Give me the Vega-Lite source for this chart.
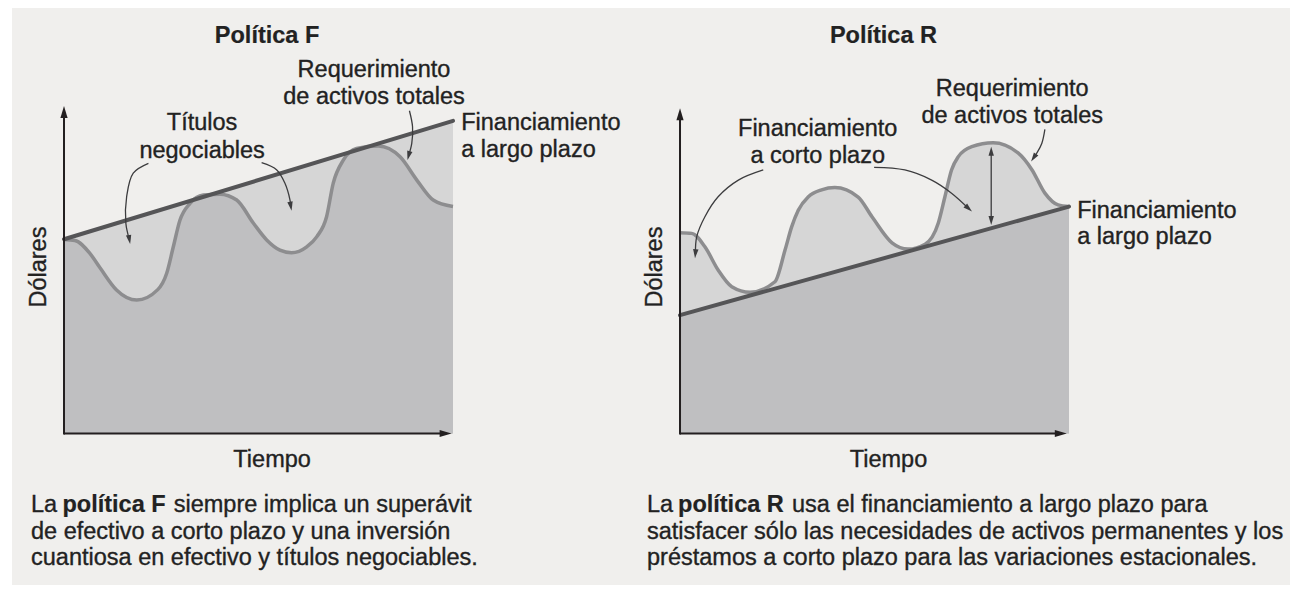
{
  "$schema": "https://vega.github.io/schema/vega-lite/v6.json",
  "background": "#ffffff",
  "padding": {"left": 12, "top": 8, "right": 0, "bottom": 16},
  "spacing": 0,
  "bounds": "flush",
  "config": {"view": {"stroke": null, "fill": "#f0efed"}, "text": {"font": "Liberation Sans", "fontSize": 23.5, "color": "#222222", "stroke": "#222222", "strokeWidth": 0.35, "baseline": "middle"}},
  "datasets": {
    "fin": [
      {"panel": "F", "t": 0, "d": 59.4}, {"panel": "F", "t": 100, "d": 95.6},
      {"panel": "R", "t": 0, "d": 36.2}, {"panel": "R", "t": 100, "d": 69.4}
    ],
    "req": [
      {"panel": "F", "t": 0, "d": 59.3}, {"panel": "F", "t": 2.8, "d": 59.0}, {"panel": "F", "t": 6.7, "d": 55.0},
      {"panel": "F", "t": 9.3, "d": 50.6}, {"panel": "F", "t": 13.5, "d": 43.9}, {"panel": "F", "t": 18.7, "d": 40.8},
      {"panel": "F", "t": 24.1, "d": 44.0}, {"panel": "F", "t": 26.4, "d": 49.0}, {"panel": "F", "t": 28.1, "d": 57.1},
      {"panel": "F", "t": 29.8, "d": 65.2}, {"panel": "F", "t": 32.4, "d": 70.4}, {"panel": "F", "t": 35.8, "d": 72.9},
      {"panel": "F", "t": 40.1, "d": 73.2}, {"panel": "F", "t": 44.4, "d": 71.4}, {"panel": "F", "t": 48.7, "d": 64.3},
      {"panel": "F", "t": 52.1, "d": 59.2}, {"panel": "F", "t": 55.5, "d": 56.1}, {"panel": "F", "t": 58.5, "d": 55.3},
      {"panel": "F", "t": 62.4, "d": 57.1}, {"panel": "F", "t": 65.0, "d": 60.2}, {"panel": "F", "t": 67.5, "d": 66.3},
      {"panel": "F", "t": 69.2, "d": 76.5}, {"panel": "F", "t": 71.8, "d": 83.6}, {"panel": "F", "t": 75.2, "d": 87.2},
      {"panel": "F", "t": 80.8, "d": 87.9}, {"panel": "F", "t": 86.4, "d": 84.6}, {"panel": "F", "t": 90.7, "d": 77.5},
      {"panel": "F", "t": 94.9, "d": 71.4}, {"panel": "F", "t": 100, "d": 69.4},
      {"panel": "R", "t": 0, "d": 61.4}, {"panel": "R", "t": 3.0, "d": 61.2}, {"panel": "R", "t": 6.4, "d": 57.1},
      {"panel": "R", "t": 9.8, "d": 50.0}, {"panel": "R", "t": 13.3, "d": 44.9}, {"panel": "R", "t": 18.0, "d": 43.2},
      {"panel": "R", "t": 24.4, "d": 46.4}, {"panel": "R", "t": 27.0, "d": 56.1}, {"panel": "R", "t": 28.7, "d": 63.2},
      {"panel": "R", "t": 30.4, "d": 68.3}, {"panel": "R", "t": 33.0, "d": 72.4}, {"panel": "R", "t": 36.4, "d": 74.5},
      {"panel": "R", "t": 39.8, "d": 75.2}, {"panel": "R", "t": 45.8, "d": 72.3}, {"panel": "R", "t": 49.4, "d": 66.2},
      {"panel": "R", "t": 54.5, "d": 58.3}, {"panel": "R", "t": 58.6, "d": 56.4}, {"panel": "R", "t": 63.0, "d": 57.9},
      {"panel": "R", "t": 66.4, "d": 64.4}, {"panel": "R", "t": 68.1, "d": 72.4}, {"panel": "R", "t": 69.8, "d": 80.6},
      {"panel": "R", "t": 71.5, "d": 84.6}, {"panel": "R", "t": 75.0, "d": 87.7}, {"panel": "R", "t": 80.5, "d": 88.9},
      {"panel": "R", "t": 86.9, "d": 85.8}, {"panel": "R", "t": 90.5, "d": 80.6}, {"panel": "R", "t": 93.8, "d": 73.5},
      {"panel": "R", "t": 97.2, "d": 69.9}, {"panel": "R", "t": 100, "d": 69.4}
    ],
    "axes": [
      {"panel": "F", "t": 0, "t2": 0, "d": -0.3, "d2": 98.3},
      {"panel": "F", "t": 0, "t2": 98.1, "d": 0, "d2": 0},
      {"panel": "R", "t": 0, "t2": 0, "d": -0.3, "d2": 97.6},
      {"panel": "R", "t": 0, "t2": 97.9, "d": 0, "d2": 0}
    ],
    "heads": [
      {"panel": "F", "kind": "axis", "t": 0, "d": 98.3, "heading": 0},
      {"panel": "F", "kind": "axis", "t": 98.1, "d": 0, "heading": 90},
      {"panel": "R", "kind": "axis", "t": 0, "d": 97.6, "heading": 0},
      {"panel": "R", "kind": "axis", "t": 97.9, "d": 0, "heading": 90},
      {"panel": "F", "kind": "note", "t": 16.8, "d": 59.3, "heading": 170},
      {"panel": "F", "kind": "note", "t": 58.3, "d": 69.5, "heading": 170},
      {"panel": "F", "kind": "note", "t": 88.6, "d": 85.0, "heading": 195},
      {"panel": "R", "kind": "note", "t": 3.96, "d": 55.0, "heading": 185},
      {"panel": "R", "kind": "note", "t": 74.2, "d": 68.8, "heading": 132},
      {"panel": "R", "kind": "note", "t": 90.9, "d": 84.3, "heading": 214},
      {"panel": "R", "kind": "note", "t": 80.0, "d": 86.3, "heading": 0},
      {"panel": "R", "kind": "note", "t": 80.0, "d": 65.1, "heading": 180}
    ],
    "arrows": [
      {"panel": "F", "id": "a1", "seq": 1, "t": 21.7, "d": 82.6},
      {"panel": "F", "id": "a1", "seq": 2, "t": 17.8, "d": 79.6},
      {"panel": "F", "id": "a1", "seq": 3, "t": 16.1, "d": 72.4},
      {"panel": "F", "id": "a1", "seq": 4, "t": 15.9, "d": 64.3},
      {"panel": "F", "id": "a1", "seq": 5, "t": 16.8, "d": 59.3},
      {"panel": "F", "id": "a2", "seq": 1, "t": 50.8, "d": 82.8},
      {"panel": "F", "id": "a2", "seq": 2, "t": 54.7, "d": 80.6},
      {"panel": "F", "id": "a2", "seq": 3, "t": 56.8, "d": 76.5},
      {"panel": "F", "id": "a2", "seq": 4, "t": 58.1, "d": 71.4},
      {"panel": "F", "id": "a2", "seq": 5, "t": 58.3, "d": 69.5},
      {"panel": "F", "id": "a3", "seq": 1, "t": 88.8, "d": 98.7},
      {"panel": "F", "id": "a3", "seq": 2, "t": 89.6, "d": 93.8},
      {"panel": "F", "id": "a3", "seq": 3, "t": 89.4, "d": 88.7},
      {"panel": "F", "id": "a3", "seq": 4, "t": 88.6, "d": 85.0},
      {"panel": "R", "id": "b1", "seq": 1, "t": 21.4, "d": 80.6},
      {"panel": "R", "id": "b1", "seq": 2, "t": 15.0, "d": 77.5},
      {"panel": "R", "id": "b1", "seq": 3, "t": 9.8, "d": 72.4},
      {"panel": "R", "id": "b1", "seq": 4, "t": 6.4, "d": 66.3},
      {"panel": "R", "id": "b1", "seq": 5, "t": 4.3, "d": 60.2},
      {"panel": "R", "id": "b1", "seq": 6, "t": 3.96, "d": 55.0},
      {"panel": "R", "id": "b2", "seq": 1, "t": 49.9, "d": 81.4},
      {"panel": "R", "id": "b2", "seq": 2, "t": 57.8, "d": 80.6},
      {"panel": "R", "id": "b2", "seq": 3, "t": 64.7, "d": 77.5},
      {"panel": "R", "id": "b2", "seq": 4, "t": 69.8, "d": 73.5},
      {"panel": "R", "id": "b2", "seq": 5, "t": 74.2, "d": 68.8},
      {"panel": "R", "id": "b3", "seq": 1, "t": 93.8, "d": 93.0},
      {"panel": "R", "id": "b3", "seq": 2, "t": 93.0, "d": 88.7},
      {"panel": "R", "id": "b3", "seq": 3, "t": 91.7, "d": 85.7},
      {"panel": "R", "id": "b3", "seq": 4, "t": 90.9, "d": 84.3},
      {"panel": "R", "id": "b4", "seq": 1, "t": 80.0, "d": 86.3},
      {"panel": "R", "id": "b4", "seq": 2, "t": 80.0, "d": 65.1}
    ],
    "labels": [
      {"panel": "F", "role": "title", "t": 52.2, "d": 121.5, "text": "Política F"},
      {"panel": "F", "role": "label", "t": 79.7, "d": 111.1, "text": "Requerimiento"},
      {"panel": "F", "role": "label", "t": 79.7, "d": 102.9, "text": "de activos totales"},
      {"panel": "F", "role": "label", "t": 35.5, "d": 95.0, "text": "Títulos"},
      {"panel": "F", "role": "label", "t": 35.5, "d": 86.5, "text": "negociables"},
      {"panel": "F", "role": "side", "t": 102.1, "d": 95.0, "text": "Financiamiento"},
      {"panel": "F", "role": "side", "t": 102.1, "d": 86.7, "text": "a largo plazo"},
      {"panel": "F", "role": "label", "t": 53.5, "d": -8.1, "text": "Tiempo"},
      {"panel": "F", "role": "ytitle", "t": -6.4, "d": 50.9, "text": "Dólares"},
      {"panel": "F", "role": "side", "t": -8.48, "d": -21.9, "text": "La"},
      {"panel": "F", "role": "emph", "t": -0.39, "d": -21.9, "text": "política F"},
      {"panel": "F", "role": "side", "t": 28.2, "d": -21.9, "text": "siempre implica un superávit"},
      {"panel": "F", "role": "side", "t": -8.48, "d": -30.0, "text": "de efectivo a corto plazo y una inversión"},
      {"panel": "F", "role": "side", "t": -8.48, "d": -38.2, "text": "cuantiosa en efectivo y títulos negociables."},
      {"panel": "R", "role": "title", "t": 52.3, "d": 121.5, "text": "Política R"},
      {"panel": "R", "role": "label", "t": 85.4, "d": 105.2, "text": "Requerimiento"},
      {"panel": "R", "role": "label", "t": 85.4, "d": 97.2, "text": "de activos totales"},
      {"panel": "R", "role": "label", "t": 35.4, "d": 93.1, "text": "Financiamiento"},
      {"panel": "R", "role": "label", "t": 35.4, "d": 84.9, "text": "a corto plazo"},
      {"panel": "R", "role": "side", "t": 102.1, "d": 68.1, "text": "Financiamiento"},
      {"panel": "R", "role": "side", "t": 102.1, "d": 60.0, "text": "a largo plazo"},
      {"panel": "R", "role": "label", "t": 53.6, "d": -8.1, "text": "Tiempo"},
      {"panel": "R", "role": "ytitle", "t": -6.4, "d": 50.9, "text": "Dólares"},
      {"panel": "R", "role": "side", "t": -8.48, "d": -21.9, "text": "La"},
      {"panel": "R", "role": "emph", "t": -0.51, "d": -21.9, "text": "política R"},
      {"panel": "R", "role": "side", "t": 28.8, "d": -21.9, "text": "usa el financiamiento a largo plazo para"},
      {"panel": "R", "role": "side", "t": -8.48, "d": -30.0, "text": "satisfacer sólo las necesidades de activos permanentes y los"},
      {"panel": "R", "role": "side", "t": -8.48, "d": -38.2, "text": "préstamos a corto plazo para las variaciones estacionales."}
    ]
  },
  "hconcat": [
    {
      "width": 633,
      "height": 577,
      "encoding": {
        "x": {"field": "t", "type": "quantitative", "scale": {"domain": [-13.37, 149.36], "nice": false, "zero": false}, "axis": null},
        "y": {"field": "d", "type": "quantitative", "scale": {"domain": [-46.33, 130.12], "nice": false, "zero": false}, "axis": null}
      },
      "layer": [
        {"data": {"name": "fin"}, "transform": [{"filter": "datum.panel === 'F'"}], "mark": {"type": "area", "color": "#d6d6d6"}, "encoding": {"y2": {"datum": 0}}},
        {"data": {"name": "req"}, "transform": [{"filter": "datum.panel === 'F'"}], "mark": {"type": "area", "interpolate": "monotone", "color": "#bfbfc1"}, "encoding": {"y2": {"datum": 0}}},
        {"data": {"name": "req"}, "transform": [{"filter": "datum.panel === 'F'"}], "mark": {"type": "line", "interpolate": "monotone", "color": "#8d8d8f", "strokeWidth": 3.5}, "encoding": {}},
        {"data": {"name": "fin"}, "transform": [{"filter": "datum.panel === 'F'"}], "mark": {"type": "line", "color": "#555557", "strokeWidth": 4, "strokeCap": "round"}, "encoding": {}},
        {"data": {"name": "axes"}, "transform": [{"filter": "datum.panel === 'F'"}], "mark": {"type": "rule", "color": "#231f20", "strokeWidth": 2}, "encoding": {"x2": {"field": "t2"}, "y2": {"field": "d2"}}},
        {"data": {"name": "heads"}, "transform": [{"filter": "datum.panel === 'F' && datum.kind === 'axis'"}], "mark": {"type": "point", "shape": "M0,-1L0.6,1L-0.6,1Z", "filled": true, "opacity": 1, "color": "#231f20", "size": 144}, "encoding": {"angle": {"field": "heading", "type": "quantitative", "scale": null}}},
        {"data": {"name": "arrows"}, "transform": [{"filter": "datum.panel === 'F'"}], "mark": {"type": "line", "interpolate": "catmull-rom", "color": "#3c3c3e", "strokeWidth": 1.3}, "encoding": {"detail": {"field": "id"}, "order": {"field": "seq"}}},
        {"data": {"name": "heads"}, "transform": [{"filter": "datum.panel === 'F' && datum.kind === 'note'"}], "mark": {"type": "point", "shape": "M0,-1L0.6,1L-0.6,1Z", "filled": true, "opacity": 1, "color": "#3c3c3e", "size": 81}, "encoding": {"angle": {"field": "heading", "type": "quantitative", "scale": null}}},
        {"data": {"name": "labels"}, "transform": [{"filter": "datum.panel === 'F' && datum.role === 'label'"}], "mark": {"type": "text", "align": "center"}, "encoding": {"text": {"field": "text"}}},
        {"data": {"name": "labels"}, "transform": [{"filter": "datum.panel === 'F' && datum.role === 'side'"}], "mark": {"type": "text", "align": "left"}, "encoding": {"text": {"field": "text"}}},
        {"data": {"name": "labels"}, "transform": [{"filter": "datum.panel === 'F' && datum.role === 'title'"}], "mark": {"type": "text", "align": "center", "fontWeight": "bold", "strokeWidth": 0.2}, "encoding": {"text": {"field": "text"}}},
        {"data": {"name": "labels"}, "transform": [{"filter": "datum.panel === 'F' && datum.role === 'emph'"}], "mark": {"type": "text", "align": "left", "fontWeight": "bold", "strokeWidth": 0.2}, "encoding": {"text": {"field": "text"}}},
        {"data": {"name": "labels"}, "transform": [{"filter": "datum.panel === 'F' && datum.role === 'ytitle'"}], "mark": {"type": "text", "align": "center", "angle": 270}, "encoding": {"text": {"field": "text"}}}
      ]
    },
    {
      "width": 645,
      "height": 577,
      "encoding": {
        "x": {"field": "t", "type": "quantitative", "scale": {"domain": [-9.0, 156.81], "nice": false, "zero": false}, "axis": null},
        "y": {"field": "d", "type": "quantitative", "scale": {"domain": [-46.33, 130.12], "nice": false, "zero": false}, "axis": null}
      },
      "layer": [
        {"data": {"name": "req"}, "transform": [{"filter": "datum.panel === 'R'"}], "mark": {"type": "area", "interpolate": "monotone", "color": "#d6d6d6"}, "encoding": {"y2": {"datum": 0}}},
        {"data": {"name": "fin"}, "transform": [{"filter": "datum.panel === 'R'"}], "mark": {"type": "area", "color": "#bfbfc1"}, "encoding": {"y2": {"datum": 0}}},
        {"data": {"name": "req"}, "transform": [{"filter": "datum.panel === 'R'"}], "mark": {"type": "line", "interpolate": "monotone", "color": "#8d8d8f", "strokeWidth": 3.5}, "encoding": {}},
        {"data": {"name": "fin"}, "transform": [{"filter": "datum.panel === 'R'"}], "mark": {"type": "line", "color": "#555557", "strokeWidth": 4, "strokeCap": "round"}, "encoding": {}},
        {"data": {"name": "axes"}, "transform": [{"filter": "datum.panel === 'R'"}], "mark": {"type": "rule", "color": "#231f20", "strokeWidth": 2}, "encoding": {"x2": {"field": "t2"}, "y2": {"field": "d2"}}},
        {"data": {"name": "heads"}, "transform": [{"filter": "datum.panel === 'R' && datum.kind === 'axis'"}], "mark": {"type": "point", "shape": "M0,-1L0.6,1L-0.6,1Z", "filled": true, "opacity": 1, "color": "#231f20", "size": 144}, "encoding": {"angle": {"field": "heading", "type": "quantitative", "scale": null}}},
        {"data": {"name": "arrows"}, "transform": [{"filter": "datum.panel === 'R'"}], "mark": {"type": "line", "interpolate": "catmull-rom", "color": "#3c3c3e", "strokeWidth": 1.3}, "encoding": {"detail": {"field": "id"}, "order": {"field": "seq"}}},
        {"data": {"name": "heads"}, "transform": [{"filter": "datum.panel === 'R' && datum.kind === 'note'"}], "mark": {"type": "point", "shape": "M0,-1L0.6,1L-0.6,1Z", "filled": true, "opacity": 1, "color": "#3c3c3e", "size": 81}, "encoding": {"angle": {"field": "heading", "type": "quantitative", "scale": null}}},
        {"data": {"name": "labels"}, "transform": [{"filter": "datum.panel === 'R' && datum.role === 'label'"}], "mark": {"type": "text", "align": "center"}, "encoding": {"text": {"field": "text"}}},
        {"data": {"name": "labels"}, "transform": [{"filter": "datum.panel === 'R' && datum.role === 'side'"}], "mark": {"type": "text", "align": "left"}, "encoding": {"text": {"field": "text"}}},
        {"data": {"name": "labels"}, "transform": [{"filter": "datum.panel === 'R' && datum.role === 'title'"}], "mark": {"type": "text", "align": "center", "fontWeight": "bold", "strokeWidth": 0.2}, "encoding": {"text": {"field": "text"}}},
        {"data": {"name": "labels"}, "transform": [{"filter": "datum.panel === 'R' && datum.role === 'emph'"}], "mark": {"type": "text", "align": "left", "fontWeight": "bold", "strokeWidth": 0.2}, "encoding": {"text": {"field": "text"}}},
        {"data": {"name": "labels"}, "transform": [{"filter": "datum.panel === 'R' && datum.role === 'ytitle'"}], "mark": {"type": "text", "align": "center", "angle": 270}, "encoding": {"text": {"field": "text"}}}
      ]
    }
  ]
}
